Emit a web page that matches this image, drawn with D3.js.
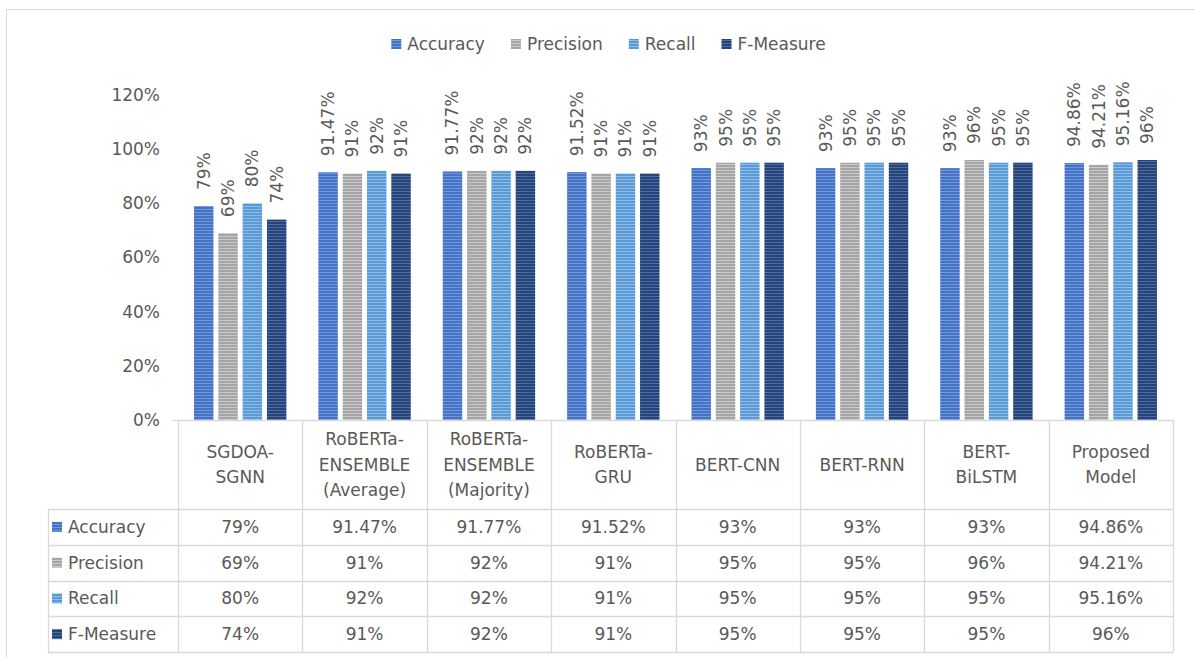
<!DOCTYPE html>
<html>
<head>
<meta charset="utf-8">
<script src="https://cdn.jsdelivr.net/npm/d3@7"></script>
<style>
  html, body { margin: 0; padding: 0; background: #fff; }
  svg { display: block; }
  text { font-family: "DejaVu Sans", sans-serif; fill: #595959; }
</style>
</head>
<body>
<svg id="chart" width="1195" height="657"></svg>
<script>
const categories = ["SGDOA-\nSGNN", "RoBERTa-\nENSEMBLE\n(Average)", "RoBERTa-\nENSEMBLE\n(Majority)", "RoBERTa-\nGRU", "BERT-CNN", "BERT-RNN", "BERT-\nBiLSTM", "Proposed\nModel"];
const seriesNames = ["Accuracy", "Precision", "Recall", "F-Measure"];
const accuracy  = [79, 91.47, 91.77, 91.52, 93, 93, 93, 94.86];
const precision = [69, 91, 92, 91, 95, 95, 96, 94.21];
const recall    = [80, 92, 92, 91, 95, 95, 95, 95.16];
const fmeasure  = [74, 91, 92, 91, 95, 95, 95, 96];
const yTicks = [0, 20, 40, 60, 80, 100, 120];
const seriesColors = ["#4472C4", "#A5A5A5", "#5B9BD5", "#264478"];
const stripeColors = ["#7398DB", "#C9C9C9", "#8EBBE7", "#4B6BA3"];

const seriesValues = [accuracy, precision, recall, fmeasure];
const fmt = v => (Number.isInteger(v) ? v : v.toFixed(2)) + "%";

const svg = d3.select("#chart");
const gridColor = "#D9D9D9";
const fs = 17;

// stripe patterns
const defs = svg.append("defs");
seriesNames.forEach((s, i) => {
  const p = defs.append("pattern").attr("id", "pat" + i)
    .attr("patternUnits", "userSpaceOnUse").attr("width", 4).attr("height", 3);
  p.append("rect").attr("width", 4).attr("height", 3).attr("fill", seriesColors[i]);
  p.append("rect").attr("y", 2).attr("width", 4).attr("height", 1).attr("fill", stripeColors[i]);
});

// outer frame
svg.append("path").attr("d", "M6.5,657 V9.5 H1195").attr("fill", "none").attr("stroke", gridColor);

const plotLeft = 178, plotRight = 1173, yTop = 95, yBottom = 420;
const x0 = d3.scaleBand().domain(d3.range(categories.length)).range([plotLeft, plotRight]).padding(0);
const x1 = d3.scaleBand().domain(d3.range(seriesNames.length))
  .range([16, x0.bandwidth() - 16]).paddingInner(0.2).paddingOuter(0);
const y = d3.scaleLinear().domain([0, 120]).range([yBottom, yTop]);

// y axis labels
const yAxis = svg.append("g").attr("transform", `translate(${plotLeft - 18},0)`)
  .call(d3.axisLeft(y).tickValues(yTicks).tickFormat(d => d + "%").tickSize(0).tickPadding(0));
yAxis.select(".domain").remove();
yAxis.selectAll("text").attr("font-size", fs).attr("font-family", "DejaVu Sans").attr("fill", "#595959");

// bars
const groups = svg.append("g").selectAll("g").data(categories).join("g")
  .attr("transform", (d, i) => `translate(${x0(i)},0)`);
groups.each(function(c, ci) {
  const g = d3.select(this);
  seriesNames.forEach((s, si) => {
    const v = seriesValues[si][ci];
    g.append("rect")
      .attr("x", x1(si)).attr("width", x1.bandwidth())
      .attr("y", y(v)).attr("height", y(0) - y(v))
      .attr("fill", `url(#pat${si})`);
    const cx = x1(si) + x1.bandwidth() / 2;
    const ty = y(v) - 16;
    g.append("text")
      .attr("transform", `translate(${cx},${ty}) rotate(-90)`)
      .attr("text-anchor", "start").attr("dominant-baseline", "central")
      .attr("font-size", fs).text(fmt(v));
  });
});

// table
const rowTop = 509, rowH = 35.75, nRows = seriesNames.length;
const tableLeft = 48, tableBottom = rowTop + rowH * nRows;
const t = svg.append("g").attr("stroke", gridColor).attr("stroke-width", 1.3).attr("fill", "none");
t.append("line").attr("x1", plotLeft).attr("x2", plotRight).attr("y1", yBottom + 0.5).attr("y2", yBottom + 0.5);
t.append("line").attr("x1", plotLeft).attr("x2", plotLeft - 6).attr("y1", yBottom + 0.5).attr("y2", yBottom + 0.5);
for (let r = 0; r <= nRows; r++) {
  const yy = Math.round(rowTop + r * rowH) + 0.5;
  t.append("line").attr("x1", tableLeft).attr("x2", plotRight).attr("y1", yy).attr("y2", yy);
}
t.append("line").attr("x1", tableLeft + 0.5).attr("x2", tableLeft + 0.5).attr("y1", rowTop).attr("y2", tableBottom);
for (let i = 0; i <= categories.length; i++) {
  const xx = (i === categories.length ? plotRight : x0(i));
  t.append("line").attr("x1", Math.round(xx) + 0.5).attr("x2", Math.round(xx) + 0.5).attr("y1", yBottom).attr("y2", tableBottom);
}

// header categories
const headMid = (yBottom + rowTop) / 2, lh = 25.5;
categories.forEach((c, i) => {
  const lines = c.split("\n");
  const tx = svg.append("text").attr("text-anchor", "middle").attr("font-size", fs);
  lines.forEach((l, li) => {
    tx.append("tspan").attr("x", x0(i) + x0.bandwidth() / 2)
      .attr("y", headMid + (li - (lines.length - 1) / 2) * lh)
      .attr("dominant-baseline", "central").text(l);
  });
});

// rows
seriesNames.forEach((s, si) => {
  const cy = rowTop + (si + 0.5) * rowH;
  svg.append("rect").attr("x", 52).attr("y", cy - 5).attr("width", 10).attr("height", 10).attr("fill", `url(#pat${si})`);
  svg.append("text").attr("x", 68).attr("y", cy).attr("dominant-baseline", "central").attr("font-size", fs).text(s);
  seriesValues[si].forEach((v, ci) => {
    svg.append("text").attr("x", x0(ci) + x0.bandwidth() / 2).attr("y", cy)
      .attr("text-anchor", "middle").attr("dominant-baseline", "central").attr("font-size", fs).text(fmt(v));
  });
});

// legend
const legend = svg.append("g");
let lx = 0;
seriesNames.forEach((s, si) => {
  const it = legend.append("g").attr("transform", `translate(${lx},0)`);
  it.append("rect").attr("x", 0).attr("y", -5).attr("width", 10).attr("height", 10).attr("fill", `url(#pat${si})`);
  const tt = it.append("text").attr("x", 16).attr("y", 0).attr("dominant-baseline", "central").attr("font-size", fs).text(s);
  lx += 16 + tt.node().getComputedTextLength() + 26;
});
const lw = lx - 26;
legend.attr("transform", `translate(${608.5 - lw / 2},44)`);
</script>
</body>
</html>
